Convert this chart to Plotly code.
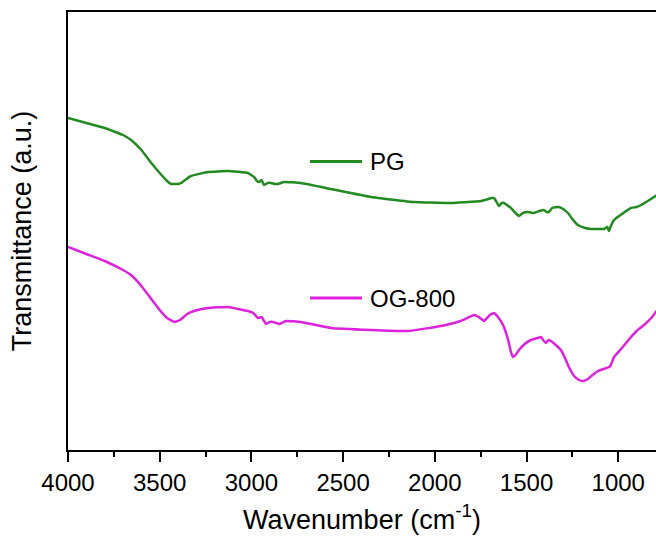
import plotly.graph_objects as go

# Wavenumber (cm^-1) and transmittance (a.u.)
pg_wn = [4000, 3900, 3800, 3700, 3656, 3600, 3550, 3500, 3460, 3438, 3400, 3384, 3330, 3237, 3128, 3019,
         2985, 2970, 2958, 2945, 2931, 2910, 2893, 2870, 2855, 2822, 2730, 2566, 2348, 2113, 1928, 1748,
         1690, 1677, 1660, 1650, 1635, 1623, 1585, 1560, 1541, 1520, 1493, 1460, 1430, 1405, 1390, 1378,
         1360, 1324, 1300, 1274, 1250, 1220, 1180, 1149, 1110, 1077, 1060, 1050, 1040, 1023, 980, 930,
         900, 875, 830, 787]
pg_t = [332, 327, 322, 315, 310, 300, 288, 277, 269, 266, 266, 267, 274, 278, 279, 277,
        273, 269, 268, 270, 265, 267, 267, 266, 266, 268, 267, 261, 253, 248, 247, 249,
        252, 252, 247, 244, 247, 247, 242, 237, 234, 237, 238, 237, 239, 240, 238, 238,
        242, 243, 241, 237, 231, 225, 222, 221, 221, 221, 223, 219, 224, 230, 236, 242,
        243, 245, 250, 255]

og_wn = [4000, 3900, 3800, 3700, 3656, 3600, 3550, 3500, 3460, 3420, 3390, 3350, 3313, 3237, 3128, 3019,
         2990, 2964, 2945, 2920, 2900, 2882, 2865, 2849, 2812, 2730, 2566, 2348, 2146, 1966, 1860, 1786,
         1760, 1732, 1700, 1677, 1660, 1628, 1600, 1585, 1574, 1560, 1541, 1510, 1476, 1440, 1421, 1405,
         1394, 1380, 1367, 1340, 1313, 1290, 1269, 1240, 1214, 1190, 1165, 1140, 1110, 1080, 1050, 1040,
         1023, 980, 930, 900, 859, 820, 787]
og_t = [203, 196, 189, 180, 175, 164, 152, 140, 132, 128, 130, 136, 139, 142, 143, 139,
        137, 132, 133, 126, 128, 128, 127, 126, 129, 128, 122, 120, 119, 124, 129, 135,
        133, 129, 135, 137, 134, 125, 110, 98, 93, 95, 100, 106, 110, 112, 113, 109,
        107, 110, 109, 105, 100, 92, 83, 74, 70, 69, 71, 75, 79, 81, 83, 85,
        93, 102, 113, 119, 125, 132, 140]

x_ticks = [4000, 3500, 3000, 2500, 2000, 1500, 1000]
names = ["PG", "OG-800"]
colors = ["#218a21", "#dd22dd"]

FONT = "Arial, Liberation Sans, sans-serif"

fig = go.Figure()
fig.add_trace(go.Scatter(x=pg_wn, y=pg_t, mode="lines", name=names[0],
                         line=dict(color=colors[0], width=2.5, shape="spline", smoothing=0.3)))
fig.add_trace(go.Scatter(x=og_wn, y=og_t, mode="lines", name=names[1],
                         line=dict(color=colors[1], width=2.5, shape="spline", smoothing=0.3)))

# Legend keys placed inside the plot (as in the reference)
legend_pos = [(0.6587, names[0], colors[0]), (0.347, names[1], colors[1])]
for ypos, label, col in legend_pos:
    fig.add_shape(type="line", xref="paper", yref="paper",
                  x0=0.4116, x1=0.500, y0=ypos, y1=ypos,
                  line=dict(color=col, width=3))
    fig.add_annotation(xref="paper", yref="paper", x=0.510, y=ypos,
                       text=label, showarrow=False, xanchor="left", yanchor="middle",
                       font=dict(family=FONT, size=24, color="black"))

fig.update_layout(
    width=656, height=538,
    margin=dict(l=68, r=0, t=12, b=88),
    plot_bgcolor="white", paper_bgcolor="white",
    showlegend=False,
    font=dict(family=FONT, color="black"),
)
fig.update_xaxes(
    range=[4000, 794], autorange=False,
    tickvals=x_ticks, ticktext=[str(v) for v in x_ticks],
    ticks="outside", ticklen=10, tickwidth=2, tickcolor="black",
    minor=dict(dtick=250, tick0=0, ticks="outside", ticklen=5, tickwidth=2, tickcolor="black"),
    showline=True, linecolor="black", linewidth=2, mirror=True,
    showgrid=False, zeroline=False,
    tickfont=dict(family=FONT, size=24, color="black"),
    title=dict(text="Wavenumber (cm<sup>-1</sup>)", font=dict(family=FONT, size=27, color="black"), standoff=15),
)
fig.update_yaxes(
    range=[0, 438], autorange=False,
    showticklabels=False, ticks="",
    showline=True, linecolor="black", linewidth=2, mirror=False,
    showgrid=False, zeroline=False,
    title=dict(text="Transmittance (a.u.)", font=dict(family=FONT, size=27, color="black"), standoff=27),
)

fig.write_html("out.html")
